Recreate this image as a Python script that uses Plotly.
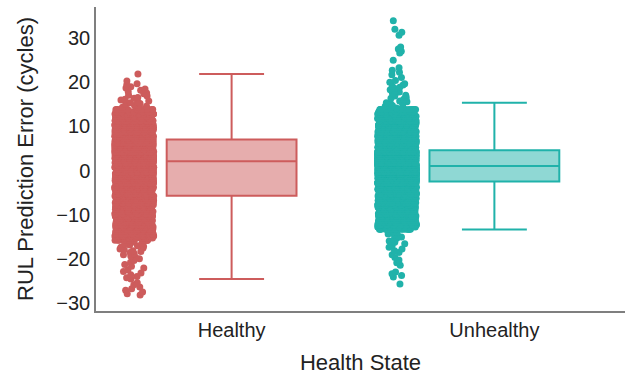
import plotly.graph_objects as go

# ---------------- data ----------------
CATEGORIES = ["Healthy", "Unhealthy"]

# Box statistics
Q1 = [-5.7, -2.5]
MEDIAN = [2.1, 1.0]
Q3 = [7.0, 4.6]
LOWER_WHISKER = [-24.5, -13.3]
UPPER_WHISKER = [21.8, 15.3]

# Healthy: dense core as (value, count) frequency table + individually read tail points
HEALTHY_CORE_VALUES = [-15.75, -15.25, -14.75, -14.25, -13.75, -13.25, -12.75, -12.25, -11.75, -11.25,
                       -10.75, -10.25, -9.75, -9.25, -8.75, -8.25, -7.75, -7.25, -6.75, -6.25,
                       -5.75, -5.25, -4.75, -4.25, -3.75, -3.25, -2.75, -2.25, -1.75, -1.25,
                       -0.75, -0.25, 0.25, 0.75, 1.25, 1.75, 2.25, 2.75, 3.25, 3.75,
                       4.25, 4.75, 5.25, 5.75, 6.25, 6.75, 7.25, 7.75, 8.25, 8.75,
                       9.25, 9.75, 10.25, 10.75, 11.25, 11.75, 12.25, 12.75, 13.25, 13.75]
HEALTHY_CORE_COUNTS = [14, 18, 22, 26, 26, 26, 26, 26, 26, 26,
                       26, 26, 26, 26, 26, 26, 26, 26, 28, 28,
                       38, 38, 38, 38, 38, 38, 38, 38, 38, 38,
                       38, 38, 38, 38, 38, 38, 60, 60, 60, 60,
                       60, 60, 60, 60, 60, 60, 38, 38, 38, 38,
                       38, 38, 38, 38, 38, 36, 32, 28, 22, 16]
HEALTHY_TAIL = [21.8, 20.2, 19.6, 19.3, 18.9, 18.6, 18.4, 18.1, 17.8, 17.5, 17.3, 17.0,
                16.8, 16.5, 16.3, 16.1, 15.9, 15.7, 15.5, 15.3, 15.1, 14.9, 14.7, 14.5, 14.3, 14.2,
                -16.2, -16.4, -16.6, -16.8, -17.0, -17.1, -17.3, -17.5, -17.7, -17.9, -18.1,
                -18.3, -18.5, -18.8, -19.0, -19.3, -19.6, -19.9, -20.3, -20.7, -21.2, -21.6,
                -22.0, -22.4, -22.8, -23.1, -23.5, -23.9, -24.2, -24.5, -25.3, -25.8, -26.3,
                -26.7, -27.0, -27.4, -27.8, -28.1]

# Unhealthy: dense core as (value, count) frequency table + individually read tail points
UNHEALTHY_CORE_VALUES = [-13.25, -12.75, -12.25, -11.75, -11.25, -10.75, -10.25, -9.75, -9.25, -8.75,
                         -8.25, -7.75, -7.25, -6.75, -6.25, -5.75, -5.25, -4.75, -4.25, -3.75,
                         -3.25, -2.75, -2.25, -1.75, -1.25, -0.75, -0.25, 0.25, 0.75, 1.25,
                         1.75, 2.25, 2.75, 3.25, 3.75, 4.25, 4.75, 5.25, 5.75, 6.25,
                         6.75, 7.25, 7.75, 8.25, 8.75, 9.25, 9.75, 10.25, 10.75, 11.25,
                         11.75, 12.25, 12.75, 13.25, 13.75]
UNHEALTHY_CORE_COUNTS = [16, 22, 26, 30, 30, 30, 30, 30, 30, 30,
                         30, 30, 30, 30, 30, 30, 30, 30, 30, 30,
                         32, 90, 90, 90, 90, 90, 90, 90, 90, 96,
                         96, 96, 96, 96, 96, 96, 34, 34, 34, 34,
                         34, 34, 34, 34, 34, 34, 34, 34, 34, 34,
                         34, 32, 30, 24, 18]
UNHEALTHY_TAIL = [33.8, 31.9, 31.2, 30.5, 27.9, 27.4, 26.9, 26.5, 24.9, 23.2, 22.6, 22.2,
                  21.6, 21.0, 20.3, 19.9, 19.6, 19.3, 19.0, 18.8, 18.5, 18.2, 18.0, 17.7,
                  17.5, 17.2, 17.0, 16.8, 16.5, 16.3, 16.1, 15.9, 15.7, 15.5, 15.3, 15.1,
                  14.9, 14.7, 14.5, 14.3, 14.1,
                  -13.8, -14.0, -14.3, -14.5, -14.8, -15.0, -15.3, -15.6, -15.9, -16.2,
                  -16.5, -16.9, -17.3, -17.7, -18.1, -18.5, -19.0, -19.6, -20.2, -20.8,
                  -21.4, -22.9, -23.3, -23.7, -24.0, -25.6]

Y_TICKS = [-30, -20, -10, 0, 10, 20, 30]
X_TITLE = "Health State"
Y_TITLE = "RUL Prediction Error (cycles)"

# ---------------- build ----------------
def expand(values, counts, tail):
    out = []
    for v, c in zip(values, counts):
        out.extend([v] * c)
    out.extend(tail)
    return sorted(out)

samples = [
    expand(HEALTHY_CORE_VALUES, HEALTHY_CORE_COUNTS, HEALTHY_TAIL),
    expand(UNHEALTHY_CORE_VALUES, UNHEALTHY_CORE_COUNTS, UNHEALTHY_TAIL),
]
colors = ["#CD5C5C", "#20B2AA"]
fills = ["rgba(205,92,92,0.5)", "rgba(32,178,170,0.5)"]
BOX_W = 0.494

fig = go.Figure()
for i, cat in enumerate(CATEGORIES):
    # jittered points (invisible box)
    fig.add_trace(go.Box(
        x=[cat] * len(samples[i]), y=samples[i],
        boxpoints="all", jitter=0.3, pointpos=-1.5, width=BOX_W,
        fillcolor="rgba(0,0,0,0)", line=dict(width=0, color=colors[i]),
        marker=dict(color=colors[i], size=7),
        hoverinfo="skip", showlegend=False,
    ))
    # box with the read statistics
    fig.add_trace(go.Box(
        x=[cat], q1=[Q1[i]], median=[MEDIAN[i]], q3=[Q3[i]],
        lowerfence=[LOWER_WHISKER[i]], upperfence=[UPPER_WHISKER[i]],
        width=BOX_W, fillcolor=fills[i], line=dict(width=2, color=colors[i]),
        boxpoints=False, showlegend=False,
    ))

font_fam = "Arial, Liberation Sans, sans-serif"
fig.update_layout(
    width=625, height=375,
    margin=dict(l=96, r=0, t=7, b=64, autoexpand=False),
    paper_bgcolor="white", plot_bgcolor="white",
    boxmode="overlay", showlegend=False,
    font=dict(family=font_fam, color="#222222"),
    xaxis=dict(
        type="category", categoryorder="array", categoryarray=CATEGORIES,
        range=[-0.516, 1.497], automargin=False,
        showline=True, linecolor="#7f7f7f", linewidth=1.5,
        showgrid=False, zeroline=False, ticks="",
        tickfont=dict(size=20, color="#222222"),
        title=dict(text=X_TITLE, font=dict(size=22, color="#222222"), standoff=19),
    ),
    yaxis=dict(
        range=[-31.7, 36.9], tickvals=Y_TICKS, automargin=False,
        showline=True, linecolor="#7f7f7f", linewidth=1.5,
        showgrid=False, zeroline=False, ticks="",
        tickfont=dict(size=20, color="#222222"),
        title=dict(text=Y_TITLE, font=dict(size=22, color="#222222"), standoff=17),
    ),
)

fig.write_html(
    "out.html",
    config={"displayModeBar": False},
    post_script="document.body.style.margin='0';document.body.style.padding='0';document.body.style.overflow='hidden';",
)
